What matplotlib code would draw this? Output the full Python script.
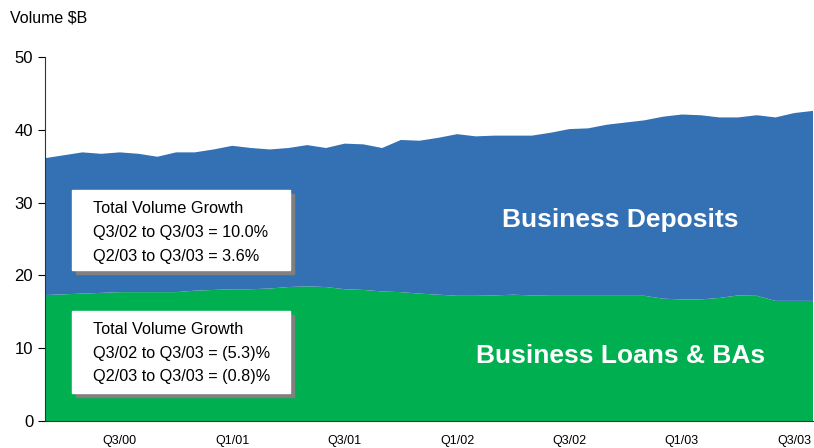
import matplotlib.pyplot as plt
from matplotlib.patches import Rectangle

plt.rcParams['font.family'] = ['Liberation Sans', 'DejaVu Sans']

# monthly volumes, $B
months = list(range(42))
loans = [17.3, 17.4, 17.5, 17.6, 17.7, 17.7, 17.7, 17.7, 17.9, 18.0,
         18.1, 18.1, 18.2, 18.4, 18.5, 18.4, 18.1, 18.0, 17.8, 17.7,
         17.5, 17.35, 17.2, 17.2, 17.25, 17.35, 17.25, 17.2, 17.2, 17.2,
         17.2, 17.2, 17.2, 16.8, 16.7, 16.7, 16.9, 17.25, 17.2, 16.5,
         16.5, 16.5]
total = [36.1, 36.5, 36.9, 36.7, 36.9, 36.7, 36.3, 36.9, 36.9, 37.3,
         37.8, 37.5, 37.3, 37.5, 37.9, 37.5, 38.1, 38.0, 37.5, 38.6,
         38.5, 38.9, 39.4, 39.1, 39.2, 39.2, 39.2, 39.6, 40.1, 40.2,
         40.7, 41.0, 41.3, 41.8, 42.1, 42.0, 41.7, 41.7, 42.0, 41.7,
         42.3, 42.6]
deposits = [t - l for t, l in zip(total, loans)]

tick_pos = [4, 10, 16, 22, 28, 34, 40]
tick_labels = ['Q3/00', 'Q1/01', 'Q3/01', 'Q1/02', 'Q3/02', 'Q1/03', 'Q3/03']

blue = '#3370B4'
green = '#00B050'

fig = plt.figure(figsize=(8.14, 4.48), dpi=100)
ax = fig.add_axes([45 / 814, 27 / 448, 768 / 814, 364 / 448])

ax.stackplot(months, loans, deposits, colors=[green, blue], linewidth=0)

ax.set_xlim(0, 41)
ax.set_ylim(0, 50)
ax.set_yticks(range(0, 51, 10))
ax.set_xticks(tick_pos)
ax.set_xticklabels(tick_labels, fontsize=9)
ax.tick_params(axis='x', length=0, pad=10)
ax.tick_params(axis='y', labelsize=12, length=5, direction='out')
for s in ['top', 'right']:
    ax.spines[s].set_visible(False)
ax.spines['left'].set_color('#333333')
ax.spines['bottom'].set_color('#333333')

fig.text(10 / 814, 1 - 18 / 448, 'Volume $B', fontsize=11.5, va='center')

ax.text(30.7, 27.6, 'Business Deposits', color='white', fontsize=19,
        fontweight='bold', ha='center', va='center')
ax.text(30.7, 8.9, 'Business Loans & BAs', color='white', fontsize=19,
        fontweight='bold', ha='center', va='center')


def stat_box(y0, y1, lines):
    # white box with a grey drop shadow, in figure pixels
    x0, x1 = 72, 290
    fig.patches.append(Rectangle(((x0 + 4) / 814, 1 - (y1 + 4) / 448),
                                 (x1 - x0) / 814, (y1 - y0) / 448,
                                 transform=fig.transFigure, color='#808080', zorder=3))
    fig.patches.append(Rectangle((x0 / 814, 1 - y1 / 448),
                                 (x1 - x0) / 814, (y1 - y0) / 448,
                                 transform=fig.transFigure, color='white', zorder=4))
    for k, txt in enumerate(lines):
        fig.text(93 / 814, 1 - (y0 + 18 + 24 * k) / 448, txt, fontsize=11.7,
                 va='center', zorder=5)


stat_box(190, 270, ['Total Volume Growth', 'Q3/02 to Q3/03 = 10.0%',
                    'Q2/03 to Q3/03 = 3.6%'])
stat_box(311, 393, ['Total Volume Growth', 'Q3/02 to Q3/03 = (5.3)%',
                    'Q2/03 to Q3/03 = (0.8)%'])

fig.savefig('out.png', dpi=100)
